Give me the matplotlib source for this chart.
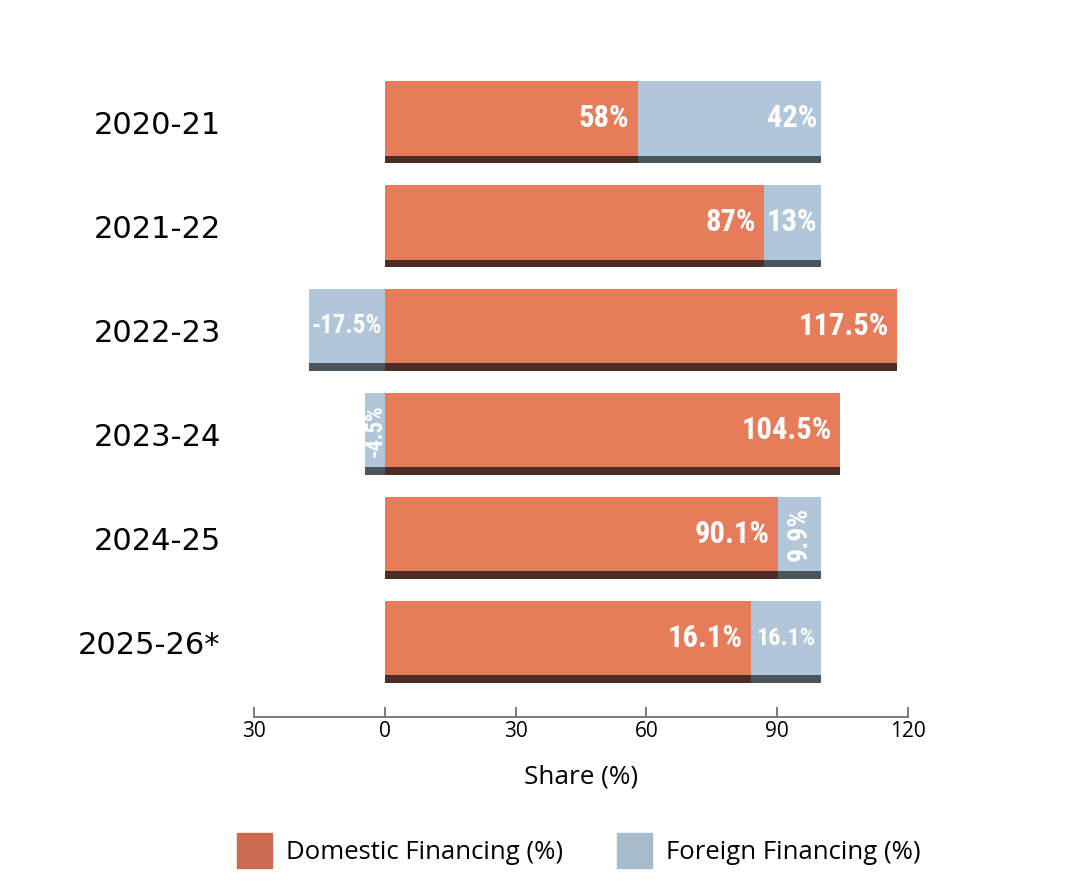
import numpy as np
import matplotlib.pyplot as plt
from matplotlib.patches import Patch

years = ['2020-21', '2021-22', '2022-23', '2023-24', '2024-25', '2025-26*']
domestic = [58, 87, 117.5, 104.5, 90.1, 83.9]
foreign = [42, 13, -17.5, -4.5, 9.9, 16.1]
dom_labels = ['58%', '87%', '117.5%', '104.5%', '90.1%', '16.1%']
for_labels = ['42%', '13%', '-17.5%', '-4.5%', '9.9%', '16.1%']

c_dom = '#E77C5A'
c_for = '#B1C6D8'
c_dom_dark = '#4C2E27'
c_for_dark = '#4B555D'

# narrow font for the white labels inside the bars
lab_font = ['Roboto Condensed', 'DejaVu Sans']
txt_font = ['Open Sans', 'DejaVu Sans']

fig = plt.figure(figsize=(10.81, 8.94), dpi=100)
ax = fig.add_axes([0.235, 0.198, 0.605, 0.735])

y = np.arange(len(years))
h = 0.79
strip = 0.075


def bar_label(x, yy, s, size, ha='right', rot=0):
    ax.text(x, yy, s, ha=ha, va='center', color='white', fontsize=size,
            fontweight='bold', family=lab_font, fontstretch='condensed',
            rotation=rot)


for i in range(len(years)):
    d = domestic[i]
    f = foreign[i]
    f_left = d if f >= 0 else 0
    ax.barh(y[i], d, height=h, left=0, color=c_dom, edgecolor='none')
    ax.barh(y[i], f, height=h, left=f_left, color=c_for, edgecolor='none')
    # dark strip along the bottom of each bar
    yb = y[i] + h / 2 - strip / 2
    ax.barh(yb, d, height=strip, left=0, color=c_dom_dark, edgecolor='none')
    ax.barh(yb, f, height=strip, left=f_left, color=c_for_dark, edgecolor='none')

ty = y - strip / 2
# domestic labels
for i in range(len(years)):
    bar_label(domestic[i] - 1.9, ty[i], dom_labels[i], 22)
# foreign labels
bar_label(99.2, ty[0], for_labels[0], 22)
bar_label(99.2, ty[1], for_labels[1], 22)
bar_label(-17.5 / 2, ty[2], for_labels[2], 18, ha='center')
bar_label(-4.5 / 2, ty[3], for_labels[3], 16.5, ha='center', rot=90)
bar_label(90.1 + 9.9 / 2, ty[4], for_labels[4], 20, ha='center', rot=90)
bar_label(83.9 + 16.1 / 2, ty[5], for_labels[5], 17.5, ha='center')

ax.set_xlim(-30, 120)
ax.set_ylim(len(years) - 1 + 0.72, -0.6)
ax.set_xticks([-30, 0, 30, 60, 90, 120])
ax.set_xticklabels(['30', '0', '30', '60', '90', '120'], family=txt_font, fontsize=15)
ax.set_yticks(y)
ax.set_yticklabels(years, family='DejaVu Sans', fontsize=22)
ax.tick_params(axis='y', length=0, pad=24)
ax.tick_params(axis='x', direction='in', length=7, color='#666666', width=1.2, pad=3)
for s in ['top', 'right', 'left']:
    ax.spines[s].set_visible(False)
ax.spines['bottom'].set_color('#666666')
ax.spines['bottom'].set_linewidth(1.2)

ax.set_xlabel('Share (%)', family=txt_font, fontsize=18.8, labelpad=16)

handles = [Patch(color='#CB6C51', label='Domestic Financing (%)'),
           Patch(color='#A8BBCA', label='Foreign Financing (%)')]
fig.legend(handles=handles, loc='center', bbox_to_anchor=(0.5355, 0.049), ncol=2,
           frameon=False, prop={'family': txt_font, 'size': 18.5},
           handlelength=1.36, handleheight=1.72, columnspacing=2.1, handletextpad=0.55)

plt.savefig('out.png', dpi=100)
